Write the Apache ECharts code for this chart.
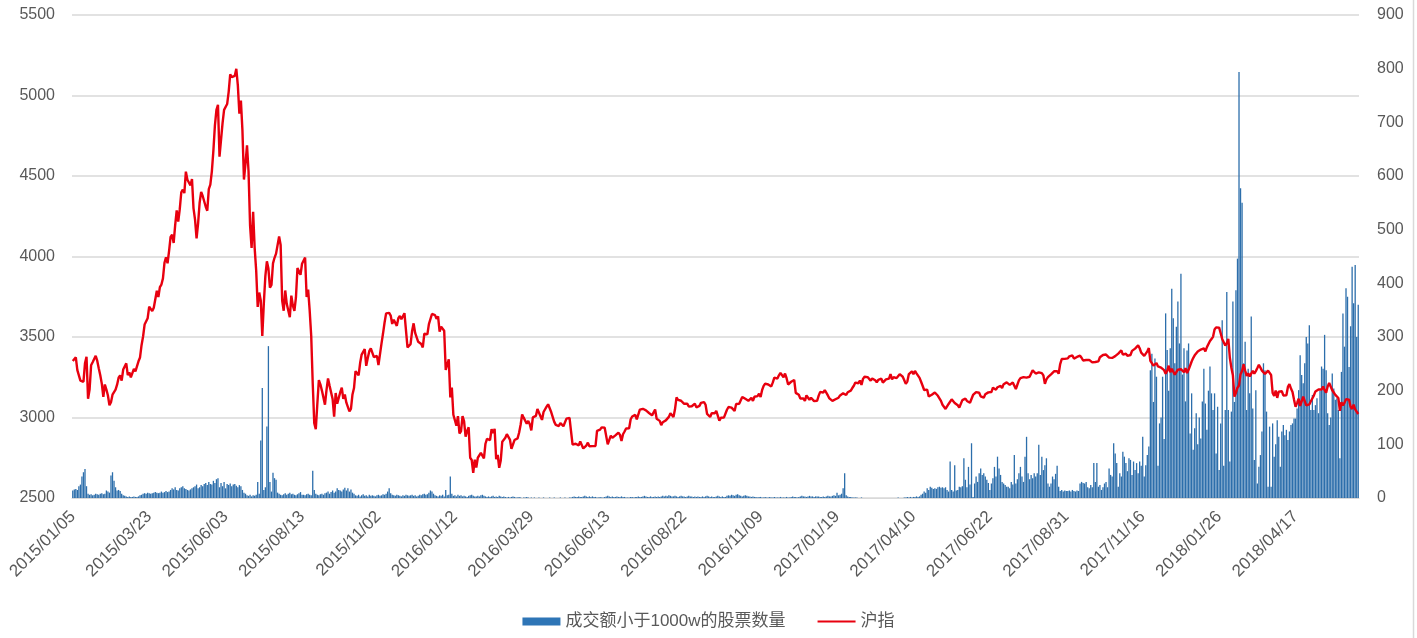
<!DOCTYPE html>
<html>
<head>
<meta charset="utf-8">
<script src="https://cdn.jsdelivr.net/npm/echarts@6/dist/echarts.min.js"></script>
<style>
html,body{margin:0;padding:0;background:#fff;}
#chart{width:1417px;height:638px;}
</style>
</head>
<body>
<div id="chart"></div>
<script>
// x-axis tick labels (one every 50 trading days)
const tickLabels = ['2015/01/05','2015/03/23','2015/06/03','2015/08/13','2015/11/02','2016/01/12','2016/03/29','2016/06/13','2016/08/22','2016/11/09','2017/01/19','2017/04/10','2017/06/22','2017/08/31','2017/11/16','2018/01/26','2018/04/17'];

// 沪指 daily close, by year
const sh2015 = [3351,3351,3374,3294,3285,3229,3235,3222,3337,3377,3116,3173,3324,3343,3352,3383,3353,3306,3262,3210,
3128,3205,3174,3137,3076,3095,3142,3158,3173,3204,3247,3262,3229,3298,3310,
3336,3263,3280,3249,3241,3302,3286,3291,3349,3373,3449,3503,3577,3582,3617,3688,3691,3661,3682,3691,3787,3748,
3810,3826,3864,3961,3995,3958,4034,4122,4136,4084,4195,4287,4217,4294,4399,4415,4394,4527,4477,4476,4442,
4481,4299,4229,4112,4206,4334,4401,4376,4378,4309,4284,4418,4446,4529,4658,4814,4911,4942,4620,4612,
4829,4911,4910,4947,5023,5132,5114,5106,5122,5166,5063,4887,4968,4785,4478,4577,4690,4528,4193,4053,4277,
4054,3913,3687,3776,3727,3507,3709,3878,3970,3925,3806,3823,3957,3992,4018,4026,4124,4071,3726,3663,3789,3706,3664,
3623,3757,3695,3662,3744,3928,3928,3886,3955,3965,3994,3748,3794,3664,3508,3210,2965,2927,3084,3232,3206,
3167,3160,3080,3170,3243,3198,3200,3115,3005,3152,3086,3098,3157,3186,3116,3143,3092,3101,3038,3053,
3143,3183,3288,3293,3262,3338,3391,3387,3425,3321,3369,3412,3430,3434,3375,3387,3383,
3325,3317,3460,3523,3590,3647,3641,3650,3633,3581,3607,3605,3569,3617,3631,3610,3616,3648,3636,3436,3445,
3456,3537,3585,3525,3537,3470,3472,3456,3435,3521,3510,3516,3580,3579,3643,3652,3636,3613,3628,3534,3564,3573,3539];
const sh2016 = [3296,3288,3362,3125,3186,3017,3023,2950,3008,2901,2914,3008,2977,2881,2917,2939,2750,2736,2656,2738,
2689,2750,2739,2781,2763,2746,2837,2867,2863,2860,2927,2903,2929,2741,2767,2688,
2733,2850,2860,2874,2897,2901,2863,2805,2810,2860,2864,2870,2905,2955,3019,2999,3009,2961,2979,2958,2920,3001,3004,
3010,3053,3051,3008,2985,3034,3024,3067,3082,3078,3034,3043,2973,2954,2959,2947,2965,2954,2946,2938,
2993,2991,2998,2913,2832,2833,2837,2836,2827,2851,2844,2808,2807,2826,2844,2821,2815,2822,2821,2823,2917,
2914,2925,2939,2934,2936,2927,2833,2842,2887,2873,2885,2889,2879,2906,2892,2854,2896,2913,2932,2930,
2933,2989,3006,3017,3017,2988,2995,3049,3061,3054,3054,3044,3037,3028,3039,3013,3016,3050,2992,2994,2979,
2953,2971,2979,2982,2977,3004,3026,3019,3003,3051,3125,3110,3110,3104,3108,3085,3090,3086,3068,3070,3070,3075,3086,
3063,3067,3072,3091,3092,3096,3079,3022,3024,3003,3026,3023,3026,3042,3034,2980,2998,2988,2999,3005,
3048,3065,3059,3061,3064,3041,3084,3085,3085,3091,3128,3132,3116,3112,3104,3100,
3122,3103,3129,3125,3133,3148,3128,3171,3196,3210,3207,3205,3208,3193,3218,3248,3241,3242,3262,3277,3283,3250,
3273,3244,3205,3200,3222,3215,3233,3153,3155,3141,3118,3123,3118,3103,3137,3140,3110,3123,3115,3102,3096,3104];
const sh2017 = [3136,3159,3165,3154,3171,3162,3137,3119,3113,3103,3109,3113,3101,3123,3137,3143,3150,3159,
3140,3157,3153,3167,3183,3197,3217,3218,3213,3230,3202,3240,3253,3262,3251,3253,3229,3242,
3247,3231,3218,3234,3242,3241,3217,3213,3237,3239,3242,3269,3237,3251,3262,3245,3249,3269,3267,3253,3241,3210,3223,
3270,3281,3287,3269,3289,3274,3276,3246,3222,3197,3171,3172,3173,3130,3135,3141,3152,3155,
3144,3135,3127,3103,3079,3081,3053,3062,3084,3090,3113,3104,3090,3091,3076,3062,3064,3108,3110,3117,
3103,3106,3092,3102,3140,3150,3158,3153,3154,3131,3133,3123,3144,3140,3156,3148,3158,3185,3191,3173,3188,3192,
3196,3183,3207,3212,3218,3213,3203,3198,3218,3222,3177,3188,3231,3245,3238,3251,3244,3248,3250,3253,3273,
3293,3285,3273,3262,3280,3282,3276,3262,3209,3237,3251,3247,3268,3268,3287,3290,3288,3272,3332,3363,3365,3364,3361,
3367,3380,3384,3385,3366,3365,3376,3380,3384,3371,3354,3363,3357,3366,3358,3353,3342,3344,3345,3340,3349,
3374,3383,3388,3386,3391,3379,3372,3382,3370,3379,3381,3388,3397,3408,3417,3390,3393,
3396,3383,3372,3388,3414,3416,3428,3433,3448,3430,3403,3399,3383,3392,3411,3431,3352,3354,3322,3334,3338,3317,
3318,3310,3304,3294,3272,3290,3322,3281,3303,3292,3266,3268,3297,3288,3300,3297,3281,3306,3276,3296,3307];
const sh2018 = [3348,3369,3386,3392,3410,3414,3422,3425,3429,3411,3437,3445,3475,3488,3501,3547,3560,3548,3558,3523,3488,3481,
3447,3462,3488,3371,3309,3262,3130,3154,3185,3199,3269,3289,3330,3292,3259,
3274,3255,3257,3290,3272,3288,3307,3327,3310,3291,3291,3270,3279,3291,3281,3264,3153,3134,3167,3122,3161,3169,
3163,3137,3131,3138,3190,3208,3180,3159,3111,3067,3091,3117,3072,3068,3129,3118,3075,3082,
3081,3101,3091,3137,3162,3159,3174,3163,3174,3192,3170,3154,3193,3214,3214,3169,3155,3141,3135,3121,3041,3095,
3075,3091,3114,3115,3110,3067,3053,3080,3050,3044,3022];

// 成交额小于1000w的股票数量, by year
const cnt2015 = [14,16,17,15,22,25,40,48,54,22,8,
6,7,5,6,8,7,6,8,9,7,8,14,12,10,
42,48,32,20,14,15,13,8,5,4,
3,2,3,2,2,3,2,2,3,
5,6,8,9,8,10,9,8,9,10,11,10,9,10,12,10,11,13,11,12,
15,18,16,20,15,14,18,20,22,18,17,15,14,16,18,20,22,25,18,20,24,22,26,28,24,30,26,25,32,28,35,
37,20,28,22,30,18,26,24,27,22,25,26,23,20,24,22,15,10,8,5,4,6,3,5,
4,6,30,8,
107,205,15,20,133,283,30,12,47,37,34,
10,8,6,5,7,9,6,8,10,7,8,6,5,7,9,11,6,
6,5,7,8,6,5,51,15,8,6,5,7,8,6,9,
10,12,8,11,14,10,12,18,15,14,12,16,19,14,18,12,16,10,8,5,4,6,3,5,7,
4,5,3,6,4,5,4,3,5,6,4,5,7,6,8,12,18,9,6,5,4,6,5,4,3,5,4,6,5,4,5,6,4,5,3,4,6,5,7,8,6,7,10,14,12,8,5,4,3,5,4,6,3];
const cnt2016 = [15,5,6,40,8,4,5,3,6,4,5,3,4,3,2,4,5,6,4,3,
3,4,3,5,6,4,3,2,3,2,3,4,2,3,2,4,
3,2,3,2,1,2,1,2,3,2,1,1,2,1,0,1,1,2,1,0,1,0,1,
0,0,1,0,0,1,0,0,0,1,0,0,1,0,0,0,1,0,0,1,
0,0,1,1,2,3,2,2,3,2,2,3,4,3,2,3,2,3,2,2,1,
1,2,1,1,2,3,4,3,2,3,2,2,3,2,2,3,2,2,1,1,
1,2,2,1,2,2,3,2,2,3,4,3,2,2,3,2,2,3,2,3,2,
3,4,3,4,3,5,4,3,3,4,3,2,3,4,3,3,2,3,4,3,3,2,3,
2,3,2,2,3,2,3,4,3,2,3,2,2,3,4,3,2,3,2,2,
4,5,4,6,5,4,6,7,5,4,3,4,5,4,3,3,
2,3,2,2,1,2,2,1,1,2,1,1,2,1,1,2,1,1,1,2,1,1,
1,2,1,1,2,3,2,2,1,2,3,4,3,3,2,3,4,3,3,2,3,3];
const cnt2017 = [3,2,2,3,2,3,4,3,3,4,5,4,10,5,6,8,18,46,
5,3,2,2,1,1,1,1,0,0,1,0,0,0,0,0,0,0,
0,0,0,0,0,0,0,0,0,0,0,0,0,0,0,0,1,0,0,0,1,1,2,
1,2,1,2,2,3,2,3,6,8,12,10,18,15,21,19,17,18,
17,20,21,19,20,18,20,15,12,68,15,12,61,14,15,21,20,22,74,34,
20,58,25,102,2,27,40,30,46,55,43,46,40,34,28,15,27,37,58,40,77,55,
43,30,27,24,21,21,18,30,25,80,27,35,46,58,40,30,77,114,46,35,43,
37,46,40,46,99,43,77,52,61,74,27,21,27,40,35,45,60,21,13,15,12,14,13,
13,14,12,15,13,12,14,13,27,30,28,27,30,20,18,24,20,65,30,65,21,
24,15,20,27,30,20,55,43,40,102,83,65,21,46,40,86,77,
65,50,74,71,43,68,52,65,46,68,60,114,40,61,80,96,238,269,179,260,226,60,
139,150,226,110,344,276,200,279,390,335,251,319,366,288,418,230,279,180,275,288,120];
const cnt2018 = [195,90,130,158,100,150,111,180,241,176,127,200,245,195,164,195,83,170,52,139,331,60,
164,384,164,68,161,366,179,387,446,794,577,550,251,291,164,
241,195,338,167,71,201,27,58,80,124,251,238,161,21,133,21,139,77,100,145,114,58,
124,136,117,127,108,124,136,139,148,148,167,201,266,229,214,251,300,288,
322,164,192,164,173,186,158,200,245,241,304,238,158,136,150,232,204,183,186,164,74,235,
344,282,391,375,244,320,431,363,434,300,360];

const shIndex = sh2015.concat(sh2016, sh2017, sh2018);
const lowCount = cnt2015.concat(cnt2016, cnt2017, cnt2018);
const categories = shIndex.map((v, i) => String(i));

const FONT = "'Liberation Sans', 'Noto Sans CJK SC', sans-serif";
const TXT = '#595959';
const GRID = '#d9d9d9';
const BLUE = '#2C6EAB';
const RED = '#E8000F';
// thin horizontal line icon, padded to the full icon box so it is not stretched
const LINE_ICON = 'path://M0,0L0.01,0L0.01,0.01Z M0,3.1L38,3.1L38,4.9L0,4.9Z M37.99,7.99L38,7.99L38,8Z';

const chart = echarts.init(document.getElementById('chart'), null, {renderer: 'canvas'});
chart.setOption({
  animation: false,
  backgroundColor: '#fff',
  textStyle: {fontFamily: FONT},
  grid: {left: 72, right: 58, top: 15, bottom: 140, containLabel: false},
  legend: {
    data: [
      {name: '成交额小于1000w的股票数量', icon: 'rect', itemStyle: {color: '#2E75B6'}},
      {name: '沪指', icon: LINE_ICON, itemStyle: {color: RED}}
    ],
    top: 608,
    left: 'center',
    itemWidth: 38,
    itemHeight: 8,
    itemGap: 32,
    textStyle: {fontSize: 17, color: TXT, fontFamily: FONT}
  },
  xAxis: {
    type: 'category',
    data: categories,
    boundaryGap: true,
    axisLine: {show: true, lineStyle: {color: GRID, width: 1}},
    axisTick: {show: false},
    splitLine: {show: false},
    axisLabel: {
      interval: 49,
      rotate: 45,
      margin: 16,
      fontSize: 17,
      color: TXT,
      fontFamily: FONT,
      formatter: function (value, index) { return tickLabels[Math.round(index / 50)] || ''; }
    }
  },
  yAxis: [
    {
      type: 'value', min: 2500, max: 5500, interval: 500, position: 'left',
      axisLine: {show: false}, axisTick: {show: false},
      axisLabel: {fontSize: 16, color: TXT, margin: 17, fontFamily: FONT, formatter: function (v) { return String(v); }},
      splitLine: {show: true, lineStyle: {color: GRID, width: 1.5}}
    },
    {
      type: 'value', min: 0, max: 900, interval: 100, position: 'right',
      axisLine: {show: false}, axisTick: {show: false},
      axisLabel: {fontSize: 16, color: TXT, margin: 18, fontFamily: FONT, formatter: function (v) { return String(v); }},
      splitLine: {show: false}
    }
  ],
  series: [
    {
      name: '成交额小于1000w的股票数量',
      type: 'bar',
      yAxisIndex: 1,
      data: lowCount,
      barWidth: '85%',
      itemStyle: {color: BLUE},
      z: 2
    },
    {
      name: '沪指',
      type: 'line',
      yAxisIndex: 0,
      data: shIndex,
      symbol: 'none',
      lineStyle: {color: RED, width: 2.4},
      itemStyle: {color: RED},
      z: 3
    }
  ],
  graphic: [
    {type: 'line', shape: {x1: 1413.5, y1: 0, x2: 1413.5, y2: 638}, style: {stroke: GRID, lineWidth: 1.5}, silent: true}
  ]
});
</script>
</body>
</html>
